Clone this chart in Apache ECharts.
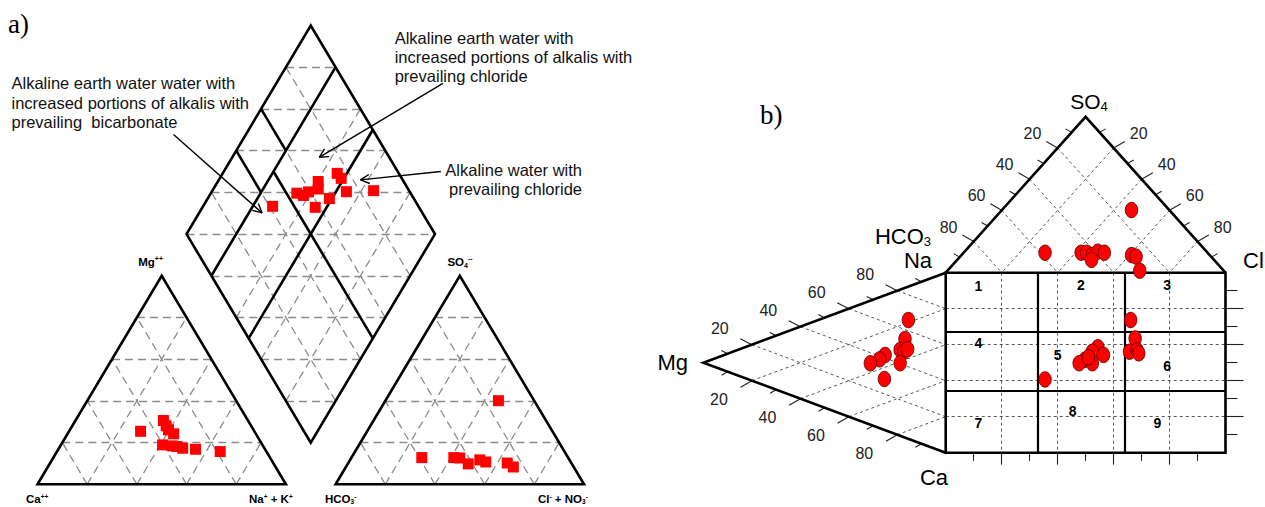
<!DOCTYPE html>
<html>
<head>
<meta charset="utf-8">
<script src="https://cdn.jsdelivr.net/npm/echarts@6.0.0/dist/echarts.min.js"></script>
<style>
html,body{margin:0;padding:0;background:#fff;}
#chart{width:1265px;height:507px;}
</style>
</head>
<body>
<div id="chart"></div>
<script>
// ================= DATA =================
// Panel a) Piper diagram (percent of meq)
const cationA_Mg  = [25.4, 30.6, 28.0, 26.1, 24.2, 18.9, 18.4, 18.1, 17.3, 16.8, 15.7];
const cationA_NaK = [28.8, 35.4, 37.8, 39.7, 42.7, 40.9, 45.2, 47.1, 49.8, 55.2, 65.7];
const anionA_SO4  = [40.1, 12.8, 12.8, 12.6, 9.8, 11.7, 10.7, 10.2, 8.3];
const anionA_Cl   = [45.5, 28.3, 41.2, 43.7, 48.5, 52.2, 55.1, 64.0, 67.4];
const diamondA_ClSO4 = [41.3, 54.2, 56.3, 59.2, 65.6, 63.8, 58.2, 66.0, 75.2, 75.6, 74.5, 85.7];
const diamondA_CaMg  = [72.0, 65.4, 62.2, 61.0, 59.6, 57.8, 54.6, 51.0, 53.9, 51.1, 45.8, 35.1];
// classification boundaries in the diamond (percent)
const alkEarthBounds = [80, 50];   // Ca+Mg
const anionBoundsTop = [40, 60];   // Cl+SO4 for Ca+Mg 80..100
const anionBoundLow  = 50;         // Cl+SO4 for Ca+Mg 0..80

// Panel b) Durov diagram
const durovAnion_SO4  = [40.2, 12.8, 12.8, 12.8, 11.3, 13.5, 12.8, 8.2, 11.3, 10.3, 1.3];
const durovAnion_Cl   = [46.3, 29.1, 42.0, 44.0, 46.7, 47.6, 50.3, 48.0, 60.8, 62.9, 68.7];
const durovCation_Mg  = [15.4, 16.8, 18.8, 17.2, 25.0, 27.3, 31.1, 18.8, 25.3, 15.7];
const durovCation_Na  = [66.0, 54.8, 47.7, 47.5, 41.8, 38.2, 34.1, 40.3, 28.3, 49.7];
const durovSquare_X   = [66.1, 67.7, 65.7, 68.4, 69.0, 54.4, 52.4, 56.4, 49.7, 47.7, 52.4, 35.5, 51.0];
const durovSquare_Y   = [73.7, 63.5, 56.1, 56.9, 55.2, 58.6, 56.1, 54.3, 51.6, 49.7, 49.7, 40.7, 53.0];
const durovFieldX = [33, 64];
const durovFieldY = [34.5, 67];
const fieldNames = ['1', '2', '3', '4', '5', '6', '7', '8', '9'];

// tick values
const gridTicks  = [20, 40, 60, 80];
const minorTicks = [10, 30, 50, 70, 90];

// ================= GEOMETRY =================
const S = Math.sqrt(3) / 2;
const A_LEFT = 37.5, A_TOP = 25.5, A_W = 546.5, A_H = 458.8, A_XMAX = 220, A_YMAX = 220 * S;
const B_LEFT = 703.4, B_TOP = 116.8, B_W = 522.1, B_H = 335.9, B_XMIN = -100 * S, B_XMAX = 100, B_YMAX = 100 + 100 * S;
const AX = A_W / A_XMAX, AY = A_H / A_YMAX;
const BX = B_W / (B_XMAX - B_XMIN), BY = B_H / B_YMAX;

const catPt  = (mg, nak) => [nak + mg / 2, mg * S];
const aniPt  = (so4, cl) => [120 + cl + so4 / 2, so4 * S];
const diaPt  = (clso4, camg) => [110 + (clso4 - camg) / 2, 20 * S + (clso4 + camg) * S];
const topPt  = (so4, cl) => [cl + so4 / 2, 100 + so4 * S];
const leftPt = (mg, na) => [-mg * S, na + mg / 2];

// ---- panel a lines ----
const dashA = [];
gridTicks.forEach(k => {
  [0, 120].forEach(ox => {
    dashA.push([[ox + k / 2, k * S], [ox + 100 - k / 2, k * S]]);
    dashA.push([[ox + k, 0], [ox + (100 + k) / 2, (100 - k) * S]]);
    dashA.push([[ox + k, 0], [ox + k / 2, k * S]]);
  });
  dashA.push([diaPt(k, 0), diaPt(k, 100)]);
  dashA.push([diaPt(0, k), diaPt(100, k)]);
});
for (let s = 20; s < 200; s += 20) {
  dashA.push(s <= 100 ? [diaPt(0, s), diaPt(s, 0)] : [diaPt(s - 100, 100), diaPt(100, s - 100)]);
}
const outlineA = [
  [[0, 0], [100, 0], [50, 100 * S], [0, 0], [100, 0]],
  [[120, 0], [220, 0], [170, 100 * S], [120, 0], [220, 0]],
  [diaPt(0, 0), diaPt(100, 0), diaPt(100, 100), diaPt(0, 100), diaPt(0, 0), diaPt(100, 0)]
];
const fieldA = [];
alkEarthBounds.forEach(b => fieldA.push([diaPt(0, b), diaPt(100, b)]));
anionBoundsTop.forEach(a => fieldA.push([diaPt(a, alkEarthBounds[0]), diaPt(a, 100)]));
fieldA.push([diaPt(anionBoundLow, 0), diaPt(anionBoundLow, alkEarthBounds[0])]);

// annotation arrows (data units of panel a)
const arrowDefs = [
  [[163.2, 166.5], [113.4, 135.8]],
  [[54.75, 145.3], [90.4, 112.7]],
  [[162.4, 129.9], [130.0, 126.4]]
];
const arrowA = [];
arrowDefs.forEach(([s, e]) => {
  const dx = (e[0] - s[0]) * AX, dy = (e[1] - s[1]) * AY;
  const L = Math.hypot(dx, dy), ux = dx / L, uy = dy / L;
  arrowA.push([s, e]);
  [0.47, -0.47].forEach(a => {
    const c = Math.cos(a), sn = Math.sin(a);
    const bx = -(ux * c - uy * sn), by = -(ux * sn + uy * c);
    arrowA.push([e, [e[0] + bx * 10 / AX, e[1] + by * 10 / AY]]);
  });
});

// ---- panel b lines ----
const dashB = [];
gridTicks.forEach(k => {
  dashB.push([topPt(100 - k, 0), topPt(0, 100 - k)]);
  dashB.push([topPt(100 - k, k), topPt(0, k)]);
  dashB.push([[k, 100], [k, 0]]);
  dashB.push([leftPt(100 - k, k), leftPt(0, k)]);
  dashB.push([leftPt(100 - k, 0), leftPt(0, 100 - k)]);
  dashB.push([[0, k], [100, k]]);
});
const outlineB = [
  [[0, 0], [100, 0], [100, 100], [0, 100], [0, 0], [100, 0]],
  [[0, 100], topPt(100, 0), [100, 100]],
  [[0, 100], leftPt(100, 0), [0, 0]]
];
const fieldB = [];
durovFieldX.forEach(x => fieldB.push([[x, 0], [x, 100]]));
durovFieldY.forEach(y => fieldB.push([[0, y], [100, y]]));

const offB = (p, dx, dy) => [p[0] + dx / BX, p[1] - dy / BY];
const tickB = [], tickLabB = [];
const allTicks = minorTicks.concat(gridTicks);
const edges = [
  { f: t => topPt(100 - t, 0), d: [-0.866, -0.5], ld: 29 },
  { f: t => topPt(100 - t, t), d: [0.866, -0.5], ld: 29 },
  { f: t => leftPt(100 - t, t), d: [-0.89, -0.46], ld: 36 },
  { f: t => leftPt(100 - t, 0), d: [-0.866, 0.5], ld: 38 }
];
edges.forEach(e => {
  allTicks.forEach(t => {
    const p = e.f(t), major = gridTicks.includes(t), len = major ? 13 : 7;
    tickB.push([p, offB(p, e.d[0] * len, e.d[1] * len)]);
    if (major) tickLabB.push({ value: offB(p, e.d[0] * e.ld, e.d[1] * e.ld), name: String(t) });
  });
});
allTicks.forEach(t => {
  const major = gridTicks.includes(t);
  tickB.push([[100, t], offB([100, t], major ? 18 : 12, 0)]);
  tickB.push([[t, 0], offB([t, 0], 0, major ? 12 : 8)]);
});
const fieldPos = [[11.7, 92.6], [48.3, 93.2], [79.1, 93.2], [11.7, 61.1], [40.0, 54.3], [79.1, 48.2], [11.7, 16.3], [45.4, 23.3], [75.7, 16.7]];

// ================= SERIES =================
const linesS = (g, data, style, z, poly) => ({
  type: 'lines', coordinateSystem: 'cartesian2d', xAxisIndex: g, yAxisIndex: g,
  polyline: !!poly, silent: true, z: z, clip: false, animation: false,
  lineStyle: Object.assign({ opacity: 1, join: 'miter', cap: 'butt' }, style),
  data: data.map(c => ({ coords: c }))
});
const F = 'Liberation Sans';
const labelS = (g, data, fs, weight, color) => ({
  type: 'scatter', xAxisIndex: g, yAxisIndex: g, symbolSize: 1, silent: true, clip: false, z: 20,
  itemStyle: { color: 'rgba(0,0,0,0)' },
  label: { show: true, position: 'inside', formatter: '{b}', fontFamily: F, fontSize: fs, fontWeight: weight, color: color, opacity: 1 },
  data: data
});

const series = [
  linesS(0, dashA, { color: '#8c8c8c', width: 1.3, type: [8, 5] }, 1),
  linesS(0, outlineA, { color: '#000', width: 2.6 }, 3, true),
  linesS(0, fieldA, { color: '#000', width: 2.6 }, 3),
  linesS(0, arrowA, { color: '#000', width: 1.4 }, 4),
  {
    type: 'scatter', xAxisIndex: 0, yAxisIndex: 0, symbol: 'rect', symbolSize: 11, silent: true, clip: false, z: 10,
    itemStyle: { color: '#ff0000', opacity: 1 },
    data: cationA_Mg.map((m, i) => catPt(m, cationA_NaK[i]))
      .concat(anionA_SO4.map((s, i) => aniPt(s, anionA_Cl[i])))
      .concat(diamondA_ClSO4.map((a, i) => diaPt(a, diamondA_CaMg[i])))
  },
  linesS(1, dashB, { color: '#444', width: 0.9, type: [3, 3] }, 1),
  linesS(1, tickB, { color: '#222', width: 1.1 }, 2),
  linesS(1, outlineB, { color: '#000', width: 2.6 }, 3, true),
  linesS(1, fieldB, { color: '#000', width: 2.2 }, 3),
  {
    type: 'scatter', xAxisIndex: 1, yAxisIndex: 1, symbol: 'circle', symbolSize: [12.5, 15.5], silent: true, clip: false, z: 10,
    itemStyle: { color: '#ff0000', borderColor: '#5a0000', borderWidth: 0.8, opacity: 1 },
    data: durovAnion_SO4.map((s, i) => topPt(s, durovAnion_Cl[i]))
      .concat(durovCation_Mg.map((m, i) => leftPt(m, durovCation_Na[i])))
      .concat(durovSquare_X.map((x, i) => [x, durovSquare_Y[i]]))
  },
  labelS(1, tickLabB, 16, 'normal', '#222'),
  labelS(1, fieldPos.map((p, i) => ({ value: p, name: fieldNames[i] })), 14, 'bold', '#000')
];

// ================= TEXT =================
function txt(x, y, text, font, align, valign, extra) {
  return {
    type: 'text', silent: true, z: 100,
    style: Object.assign({
      text: text, x: x, y: y, font: font, fill: '#000',
      align: align, verticalAlign: valign, textAlign: align, textVerticalAlign: valign
    }, extra || {})
  };
}
function chem(x, y, text, fs, weight, align, sfs, lh) {
  const base = { fontFamily: F, fontSize: fs, fontWeight: weight, fill: '#000', lineHeight: lh };
  return {
    type: 'text', silent: true, z: 100,
    style: {
      text: text, x: x, y: y, align: align, verticalAlign: 'middle', textAlign: align, textVerticalAlign: 'middle',
      rich: {
        m: base,
        p: { fontFamily: F, fontSize: sfs, fontWeight: weight, fill: '#000', lineHeight: sfs, verticalAlign: 'top' },
        b: { fontFamily: F, fontSize: sfs, fontWeight: weight, fill: '#000', lineHeight: sfs, verticalAlign: 'bottom' }
      }
    }
  };
}
const annFont = '16.5px "Liberation Sans"';
const graphic = [
  txt(8, 24, 'a)', '27px "Liberation Serif"', 'left', 'middle'),
  txt(760, 115, 'b)', '27px "Liberation Serif"', 'left', 'middle'),
  txt(394.7, 28.1, 'Alkaline earth water with\nincreased portions of alkalis with\nprevailing chloride', annFont, 'left', 'top', { lineHeight: 19.2, fill: '#111' }),
  txt(11.5, 73.7, 'Alkaline earth water water with\nincreased portions of alkalis with\nprevailing  bicarbonate', annFont, 'left', 'top', { lineHeight: 19.2, fill: '#111' }),
  txt(582, 160.4, 'Alkaline water with\nprevailing chloride', annFont, 'right', 'top', { lineHeight: 19.2, fill: '#111' }),
  chem(163, 262, '{m|Mg}{p|++}', 11.5, 'bold', 'right', 7, 14),
  chem(460, 262, '{m|SO}{b|4}{p|--}', 11.5, 'bold', 'center', 7, 14),
  chem(26, 498.5, '{m|Ca}{p|++}', 11.5, 'bold', 'left', 6.5, 12),
  chem(249, 498.5, '{m|Na}{p|+}{m| + K}{p|+}', 11.5, 'bold', 'left', 6.5, 12),
  chem(325, 498.5, '{m|HCO}{b|3}{p|-}', 11.5, 'bold', 'left', 6.5, 12),
  chem(538, 498.5, '{m|Cl}{p|-}{m| + NO}{b|3}{p|-}', 11.5, 'bold', 'left', 6.5, 12),
  chem(1089, 101, '{m|SO}{b|4}', 21, 'normal', 'center', 13, 24),
  chem(931, 236, '{m|HCO}{b|3}', 22, 'normal', 'right', 13, 24),
  chem(932, 260, '{m|Na}', 22, 'normal', 'right', 13, 24),
  chem(1243, 260, '{m|Cl}', 22, 'normal', 'left', 13, 24),
  chem(688, 362, '{m|Mg}', 22, 'normal', 'right', 13, 24),
  chem(934, 477, '{m|Ca}', 22, 'normal', 'center', 13, 24)
];

const chart = echarts.init(document.getElementById('chart'), null, { renderer: 'svg', width: 1265, height: 507 });
chart.setOption({
  animation: false,
  backgroundColor: '#ffffff',
  grid: [
    { left: A_LEFT, top: A_TOP, width: A_W, height: A_H, containLabel: false, outerBoundsMode: 'none' },
    { left: B_LEFT, top: B_TOP, width: B_W, height: B_H, containLabel: false, outerBoundsMode: 'none' }
  ],
  xAxis: [
    { gridIndex: 0, type: 'value', min: 0, max: A_XMAX, show: false },
    { gridIndex: 1, type: 'value', min: B_XMIN, max: B_XMAX, show: false }
  ],
  yAxis: [
    { gridIndex: 0, type: 'value', min: 0, max: A_YMAX, show: false },
    { gridIndex: 1, type: 'value', min: 0, max: B_YMAX, show: false }
  ],
  series: series,
  graphic: graphic
});
</script>
</body>
</html>
